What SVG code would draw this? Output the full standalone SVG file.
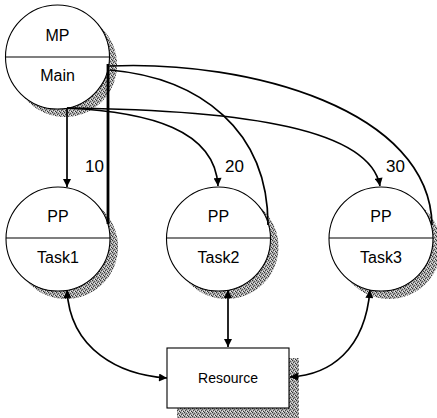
<svg xmlns="http://www.w3.org/2000/svg" width="437" height="418" viewBox="0 0 437 418">
<style>
.shadow{fill:url(#dither);stroke:none}
.node{fill:#fff;stroke:#000;stroke-width:1.1}
.div{stroke:#000;stroke-width:1.1}
.t{font-family:"Liberation Sans",Arial,sans-serif;font-size:16px;text-anchor:middle;fill:#000}
.lbl{font-family:"Liberation Sans",Arial,sans-serif;font-size:17px;fill:#000}
.c{fill:none;stroke:#000;stroke-width:1.7}
</style>
<defs>
<pattern id="dither" width="4" height="4" patternUnits="userSpaceOnUse">
<rect width="4" height="4" fill="#a6a6a6"/>
<rect x="0" y="0" width="1" height="1" fill="#333"/>
<rect x="2" y="1" width="1" height="1" fill="#555"/>
<rect x="1" y="2" width="1" height="1" fill="#444"/>
<rect x="3" y="3" width="1" height="1" fill="#333"/>
<rect x="2" y="3" width="1" height="1" fill="#eee"/>
<rect x="0" y="2" width="1" height="1" fill="#ddd"/>
<rect x="3" y="0" width="1" height="1" fill="#ddd"/>
</pattern>
<marker id="ah" viewBox="0 0 10 10" refX="10" refY="5" markerWidth="9" markerHeight="8" markerUnits="userSpaceOnUse" orient="auto-start-reverse">
<path d="M0,0 L10,5 L0,10 z" fill="#000"/>
</marker>
</defs>
<rect width="437" height="418" fill="#fff"/>

<g id="node-mp">
<circle class="shadow" cx="65" cy="65" r="52"/>
<circle class="node" cx="57.5" cy="57" r="52"/>
<line class="div" x1="5.5" y1="57" x2="109.5" y2="57"/>
<text class="t" x="57.5" y="41">MP</text>
<text class="t" x="57.5" y="81">Main</text>
</g>

<g id="node-task1">
<circle class="shadow" cx="66" cy="247" r="52"/>
<circle class="node" cx="58" cy="239" r="52"/>
<line class="div" x1="6" y1="238" x2="110" y2="238"/>
<text class="t" x="58" y="222">PP</text>
<text class="t" x="58" y="263">Task1</text>
</g>

<g id="node-task2">
<circle class="shadow" cx="226.5" cy="247" r="52"/>
<circle class="node" cx="218.5" cy="239" r="52"/>
<line class="div" x1="166.5" y1="238" x2="270.5" y2="238"/>
<text class="t" x="218.5" y="222">PP</text>
<text class="t" x="218.5" y="263">Task2</text>
</g>

<g id="node-task3">
<circle class="shadow" cx="389" cy="247" r="52"/>
<circle class="node" cx="381" cy="239" r="52"/>
<line class="div" x1="329" y1="238" x2="433" y2="238"/>
<text class="t" x="381" y="222">PP</text>
<text class="t" x="381" y="263">Task3</text>
</g>

<g id="node-resource">
<rect class="shadow" x="177" y="358" width="122" height="60"/>
<rect class="node" x="167" y="348" width="122" height="60"/>
<text x="228" y="383" class="t" style="font-size:14px">Resource</text>
</g>

<g id="connectors">
<path class="c" d="M67,108 L67,187" marker-end="url(#ah)"/>
<path class="c" d="M67,108 C150,112 215,130 218,186" marker-end="url(#ah)"/>
<path class="c" d="M67,108 C250,110 370,130 380,186" marker-end="url(#ah)"/>
<path class="c" d="M108,224 L108,64" style="stroke-width:2.8"/>
<path class="c" d="M268,225 C268,130 200,78 110,70"/>
<path class="c" d="M432,225 C430,110 250,60 110,66"/>
<path class="c" d="M67,290 C70,350 120,375 167,378" marker-start="url(#ah)" marker-end="url(#ah)"/>
<path class="c" d="M228,290 L228,347" marker-start="url(#ah)" marker-end="url(#ah)"/>
<path class="c" d="M370,290 C365,350 330,375 290,377" marker-start="url(#ah)" marker-end="url(#ah)"/>
<text class="lbl" x="85" y="172">10</text>
<text class="lbl" x="225" y="172">20</text>
<text class="lbl" x="386" y="172">30</text>
</g>
</svg>
